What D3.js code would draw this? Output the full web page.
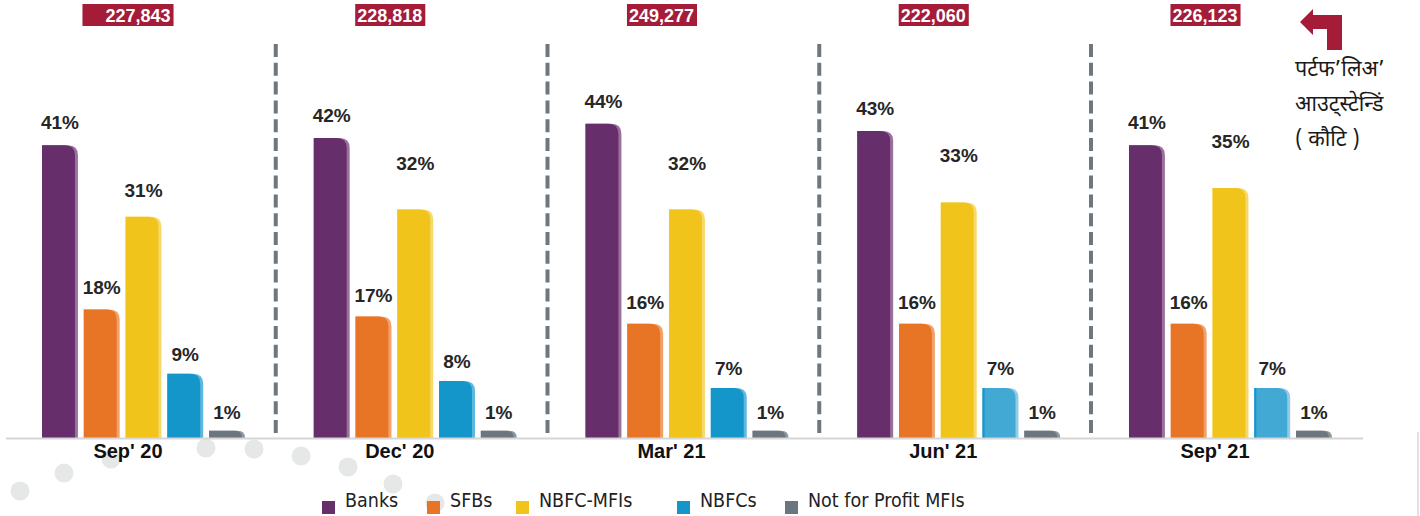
<!DOCTYPE html>
<html>
<head>
<meta charset="utf-8">
<script src="https://cdn.jsdelivr.net/npm/d3@7"></script>
<style>
  body { margin: 0; background: #fff; }
  svg { display: block; }
</style>
</head>
<body>
<div class="chart"></div>
<script>
"use strict";

// Quarters and portfolio outstanding (crore)
const periods = ["Sep' 20", "Dec' 20", "Mar' 21", "Jun' 21", "Sep' 21"];
const totals = [227843, 228818, 249277, 222060, 226123];

// Share of each lender type, in %
const seriesNames = ["Banks", "SFBs", "NBFC-MFIs", "NBFCs", "Not for Profit MFIs"];
const banks = [41, 42, 44, 43, 41];
const sfbs = [18, 17, 16, 16, 16];
const nbfcMfis = [31, 32, 32, 33, 35];
const nbfcs = [9, 8, 7, 7, 7];
const notForProfit = [1, 1, 1, 1, 1];

const titleLines = ["पर्टफ’लिअ’", "आउट्स्टेन्डिं", "( कौटि )"];

const seriesValues = [banks, sfbs, nbfcMfis, nbfcs, notForProfit];

const colors = {
  "Banks": ["#662e6a", "#9c709d"],
  "SFBs": ["#e87425", "#f2a06c"],
  "NBFC-MFIs": ["#f1c41b", "#f7d96a"],
  "NBFCs": ["#1596ca", "#5cb8de"],
  "Not for Profit MFIs": ["#6b767e", "#8e989e"]
};
// the last two quarters use a paler blue in the source
const paleNbfc = ["#42a9d5", "#90cce6"];

// gap between bar top and label baseline
const labelGap = {
  "Banks": 16,
  "SFBs": 15,
  "NBFC-MFIs": 40,
  "NBFCs": 13,
  "Not for Profit MFIs": 12
};

const width = 1420;
const height = 516;
const baseY = 438;

const svg = d3.select(".chart")
  .append("svg")
    .attr("width", width)
    .attr("height", height);

// decorative grey dots from the slide background
const dots = [[20, 491], [64, 473], [111, 459], [206, 448], [254, 449],
  [301, 456], [348, 467], [393, 484], [435, 503]];
svg.append("g")
  .selectAll("circle")
  .data(dots)
  .join("circle")
    .attr("cx", d => d[0])
    .attr("cy", d => d[1])
    .attr("r", 9.5)
    .attr("fill", "#e6e7e7");

// Scales
const x0 = d3.scaleBand()
  .domain(periods)
  .range([42, 42 + 5 * 271.75]);

const x1 = d3.scaleBand()
  .domain(seriesNames)
  .range([0, 203])
  .paddingInner(0.14);

const y = d3.scaleLinear()
  .domain([0, 50])
  .range([baseY, baseY - 357]);

// flat rows for the bars
const rows = [];
periods.forEach((p, i) => {
  seriesNames.forEach((s, j) => {
    rows.push({ period: p, pi: i, key: s, value: seriesValues[j][i] });
  });
});

function barColor(d) {
  if (d.key === "NBFCs" && d.pi >= 3) return paleNbfc;
  return colors[d.key];
}

function barPath(x, top, w, bottom) {
  const h = bottom - top;
  const r = Math.min(10, h);
  return `M${x},${bottom}L${x},${top}L${x + w - r},${top}` +
    `Q${x + w},${top} ${x + w},${top + r}L${x + w},${bottom}Z`;
}

// dashed separators between quarters
svg.append("g")
  .selectAll("line")
  .data(periods.slice(1))
  .join("line")
    .attr("x1", d => x0(d) - 38)
    .attr("x2", d => x0(d) - 38)
    .attr("y1", 44)
    .attr("y2", 433)
    .attr("stroke", "#6e777d")
    .attr("stroke-width", 4)
    .attr("stroke-dasharray", "13,5.8");

// bars
const bw = x1.bandwidth();
const bars = svg.append("g")
  .selectAll("g")
  .data(rows)
  .join("g")
    .attr("transform", d => `translate(${x0(d.period) + x1(d.key)},0)`);

bars.append("path")
  .attr("d", d => barPath(0, y(d.value), bw, baseY))
  .attr("fill", d => barColor(d)[1]);

bars.append("path")
  .attr("d", d => barPath(0, y(d.value), bw - 3, baseY))
  .attr("fill", d => barColor(d)[0]);

bars.filter(d => d.key === "NBFCs" && d.pi >= 3)
  .append("rect")
    .attr("x", 0)
    .attr("y", d => y(d.value))
    .attr("width", 2)
    .attr("height", d => baseY - y(d.value))
    .attr("fill", colors["NBFCs"][0]);

// value labels
bars.append("text")
  .attr("x", bw / 2)
  .attr("y", d => y(d.value) - ((d.key === "NBFC-MFIs" && d.pi === 0) ? 20 : labelGap[d.key]))
  .attr("text-anchor", "middle")
  .attr("font-family", "Liberation Sans, Arial, sans-serif")
  .attr("font-weight", "bold")
  .attr("font-size", 19)
  .attr("fill", "#262626")
  .text(d => d.value + "%");

// baseline
svg.append("line")
  .attr("x1", 6)
  .attr("x2", 1363)
  .attr("y1", baseY + 0.5)
  .attr("y2", baseY + 0.5)
  .attr("stroke", "#d6d6d6")
  .attr("stroke-width", 2);

// category axis
const xAxis = d3.axisBottom(x0).tickSize(0).tickPadding(0);
const axisG = svg.append("g")
  .attr("transform", `translate(0, ${baseY})`)
  .call(xAxis);
axisG.select(".domain").remove();
axisG.selectAll(".tick")
  .attr("transform", d => `translate(${x0(d) + 86},0)`);
axisG.selectAll(".tick text")
  .attr("y", 20)
  .attr("dy", 0)
  .attr("font-family", "Liberation Sans, Arial, sans-serif")
  .attr("font-weight", "bold")
  .attr("font-size", 20)
  .attr("fill", "#111");

// totals in red boxes
const fmt = d3.format(",");
const totalG = svg.append("g")
  .selectAll("g")
  .data(periods)
  .join("g")
    .attr("transform", (d, i) => `translate(${x0(d) + (i === 0 ? 96 : 76)},0)`);

totalG.append("text")
  .attr("y", 22)
  .attr("text-anchor", "middle")
  .attr("font-family", "Liberation Sans, Arial, sans-serif")
  .attr("font-weight", "bold")
  .attr("font-size", 18)
  .attr("fill", "#fff")
  .text((d, i) => fmt(totals[i]));

totalG.each(function(d, i) {
  const g = d3.select(this);
  const b = g.select("text").node().getBBox();
  const extra = i === 0 ? 21 : 0;
  g.insert("rect", "text")
    .attr("x", b.x - 2 - extra)
    .attr("y", 4)
    .attr("width", b.width + 5 + extra)
    .attr("height", 22)
    .attr("fill", "#a51c39");
});

// bent arrow pointing to totals
svg.append("path")
  .attr("d", "M1300,22L1313,9L1313,15L1342,15L1342,50L1327,50L1327,29L1313,29L1313,35Z")
  .attr("fill", "#a51c39");

svg.append("g")
  .selectAll("text")
  .data(titleLines)
  .join("text")
    .attr("x", 1295)
    .attr("y", (d, i) => 76 + i * 35)
    .attr("font-family", "Noto Sans Devanagari, Noto Sans, DejaVu Sans, sans-serif")
    .attr("font-size", 21.5)
    .attr("fill", "#1a1a1a")
    .text(d => d);

// legend
const legendX = [322, 427, 516, 677, 785];
const legend = svg.append("g")
  .selectAll("g")
  .data(seriesNames)
  .join("g")
    .attr("transform", (d, i) => `translate(${legendX[i]},0)`);

legend.append("rect")
  .attr("x", 0)
  .attr("y", 501)
  .attr("width", 13)
  .attr("height", 13)
  .attr("fill", d => colors[d][0]);

legend.append("text")
  .attr("x", 23)
  .attr("y", 507)
  .attr("font-family", "DejaVu Sans Condensed, DejaVu Sans, sans-serif")
  .attr("font-stretch", "condensed")
  .attr("font-size", 19.5)
  .attr("fill", "#222")
  .text(d => d);

// thin grey edge at the right
svg.append("line")
  .attr("x1", 1418)
  .attr("x2", 1418)
  .attr("y1", 432)
  .attr("y2", height)
  .attr("stroke", "#e2e2e2")
  .attr("stroke-width", 2);
</script>
</body>
</html>
